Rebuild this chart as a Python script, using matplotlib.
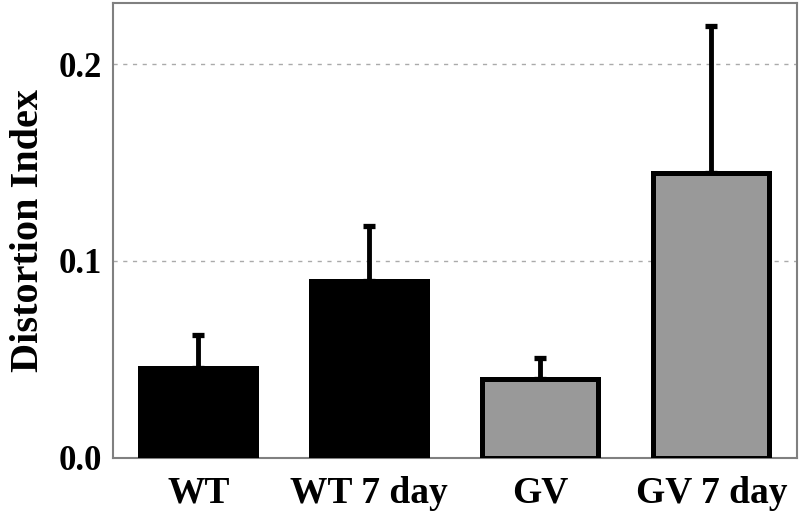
import numpy as np
import matplotlib.pyplot as plt

# Data
groups = ['WT', 'WT 7 day', 'GV', 'GV 7 day']
means = [0.0457, 0.0900, 0.0400, 0.1447]
upper_err = [0.0167, 0.0280, 0.0108, 0.0748]
colors = ['black', 'black', '#999999', '#999999']

plt.rcParams['font.family'] = ['Liberation Serif', 'DejaVu Serif']
plt.rcParams['font.weight'] = 'bold'

fig = plt.figure(figsize=(8, 5.22), dpi=100)
ax = fig.add_axes([0.141, 0.123, 0.855, 0.871])

x = np.arange(len(groups))
ax.bar(x, means, width=0.68, color=colors, edgecolor='black', linewidth=3.6, zorder=3)
ax.errorbar(x, means, yerr=[np.zeros(len(means)), upper_err], fmt='none',
            ecolor='black', elinewidth=3.5, capsize=4.5, capthick=3.8, zorder=2)

ax.set_xlim(-0.5, 3.5)
ax.set_ylim(0, 0.231)
ax.set_yticks([0.0, 0.1, 0.2])
ax.set_yticklabels(['0.0', '0.1', '0.2'], fontsize=25, fontweight='bold')
ax.set_xticks(x)
ax.set_xticklabels(groups, fontsize=27, fontweight='bold')
ax.tick_params(axis='both', length=0)
ax.tick_params(axis='x', pad=13)
ax.tick_params(axis='y', pad=8)
ax.set_ylabel('Distortion Index', fontsize=29, fontweight='bold', labelpad=8)

ax.yaxis.grid(True, linestyle=(0, (3, 4)), color='#aaaaaa', linewidth=1)
ax.set_axisbelow(True)
for s in ax.spines.values():
    s.set_color('#808080')
    s.set_linewidth(1.5)

fig.savefig('out.png', dpi=100)
